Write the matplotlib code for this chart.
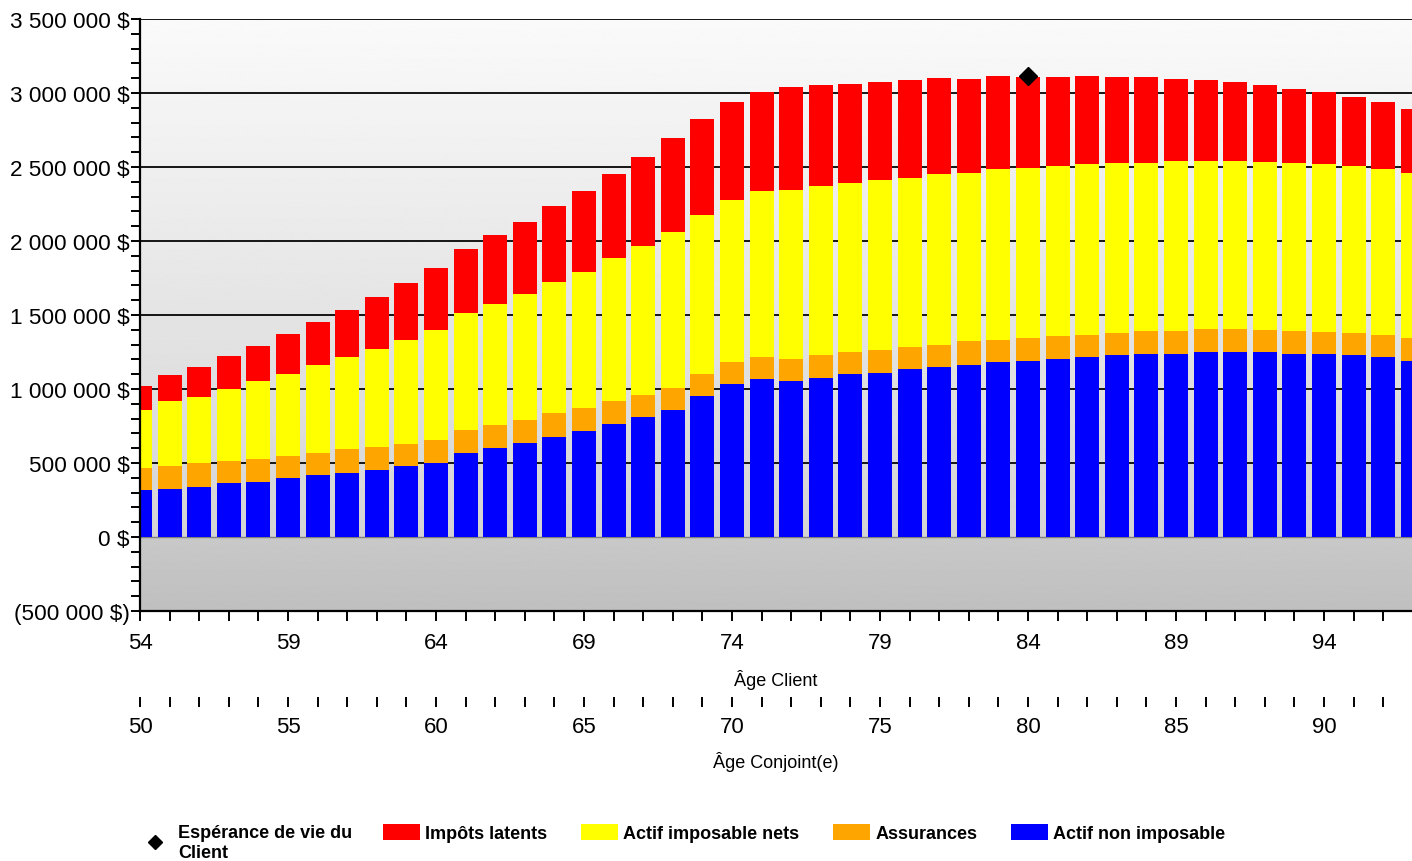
import numpy as np
import matplotlib
matplotlib.use("Agg")
import matplotlib.pyplot as plt
from matplotlib.lines import Line2D
from matplotlib.patches import Patch
from matplotlib.ticker import MultipleLocator, FuncFormatter, FixedLocator

plt.rcParams['font.family'] = ['Liberation Sans', 'DejaVu Sans']

# ---------------- data ----------------
ages_client = list(range(54, 98))
actif_non_imposable = [318000, 324000, 338000, 365000, 372000, 399000, 419000, 432000, 453000, 480000,
                       500000, 568000, 601000, 635000, 676000, 716000, 764000, 811000, 858000, 953000,
                       1034000, 1068000, 1054000, 1074000, 1101000, 1108000, 1135000, 1149000, 1162000, 1182000,
                       1189000, 1203000, 1216000, 1230000, 1236000, 1236000, 1250000, 1250000, 1250000, 1236000,
                       1236000, 1230000, 1216000, 1189000]
assurances = [149000, 155000, 162000, 149000, 155000, 149000, 149000, 162000, 155000, 149000,
              155000, 155000, 155000, 155000, 162000, 155000, 155000, 149000, 149000, 149000,
              149000, 149000, 149000, 155000, 149000, 155000, 149000, 149000, 162000, 149000,
              155000, 155000, 149000, 149000, 155000, 155000, 155000, 155000, 149000, 155000,
              149000, 149000, 149000, 155000]
actif_imposable_nets = [392000, 439000, 446000, 486000, 527000, 554000, 595000, 622000, 662000, 703000,
                        743000, 791000, 818000, 851000, 885000, 919000, 966000, 1007000, 1054000, 1074000,
                        1095000, 1122000, 1142000, 1142000, 1142000, 1149000, 1142000, 1155000, 1135000, 1155000,
                        1149000, 1149000, 1155000, 1149000, 1135000, 1149000, 1135000, 1135000, 1135000, 1135000,
                        1135000, 1128000, 1122000, 1115000]
impots_latents = [162000, 176000, 203000, 223000, 236000, 270000, 291000, 318000, 351000, 385000,
                  419000, 432000, 466000, 486000, 514000, 547000, 568000, 601000, 635000, 649000,
                  662000, 669000, 696000, 682000, 669000, 662000, 662000, 649000, 635000, 628000,
                  615000, 601000, 595000, 581000, 581000, 554000, 547000, 534000, 520000, 500000,
                  486000, 466000, 453000, 432000]
esperance_age = [84]
esperance_val = [3115000]
age_offset_conjoint = 4  # Client age - Conjoint(e) age

client_major_ticks = [54, 59, 64, 69, 74, 79, 84, 89, 94]
conjoint_major_ticks = [50, 55, 60, 65, 70, 75, 80, 85, 90]

label_esperance = "Espérance de vie du\nClient"
series_labels = ["Impôts latents", "Actif imposable nets", "Assurances", "Actif non imposable"]
colors = {"red": "#FF0000", "yellow": "#FFFF00", "orange": "#FFA500", "blue": "#0000FF"}

# ---------------- figure ----------------
W, H = 1412, 862
fig = plt.figure(figsize=(W / 100, H / 100), dpi=100)
ax = fig.add_axes([140 / W, (H - 612) / H, 1272 / W, 592 / H])

xmin, xmax = 54, 96.97
ymin, ymax = -500000, 3500000

# background gradients
grad_top = np.linspace(0.98, 0.83, 256).reshape(-1, 1)
ax.imshow(grad_top, extent=[xmin, xmax, 0, ymax], origin='upper', aspect='auto',
          cmap='gray', vmin=0, vmax=1, zorder=0, interpolation='bilinear')
grad_bot = np.linspace(0.785, 0.75, 64).reshape(-1, 1)
ax.imshow(grad_bot, extent=[xmin, xmax, ymin, 0], origin='upper', aspect='auto',
          cmap='gray', vmin=0, vmax=1, zorder=0, interpolation='bilinear')

# gridlines
for v in range(500000, 3500001, 500000):
    ax.axhline(v, color='#151515', lw=1.4, zorder=0.5)
ax.axhline(0, color='#808080', lw=1.0, zorder=0.5)

x = np.array(ages_client)
bw = 0.81
b1 = np.array(actif_non_imposable)
b2 = b1 + np.array(assurances)
b3 = b2 + np.array(actif_imposable_nets)
ax.bar(x, actif_non_imposable, width=bw, color=colors["blue"], zorder=1, linewidth=0)
ax.bar(x, assurances, width=bw, bottom=b1, color=colors["orange"], zorder=1, linewidth=0)
ax.bar(x, actif_imposable_nets, width=bw, bottom=b2, color=colors["yellow"], zorder=1, linewidth=0)
ax.bar(x, impots_latents, width=bw, bottom=b3, color=colors["red"], zorder=1, linewidth=0)

ax.plot(esperance_age, esperance_val, linestyle='none', marker='D', ms=9,
        color='black', zorder=4, clip_on=False)

ax.set_xlim(xmin, xmax)
ax.set_ylim(ymin, ymax)

def money(v, pos=None):
    s = f"{abs(int(round(v))):,}".replace(",", " ")
    return f"({s} $)" if v < 0 else f"{s} $"

ax.yaxis.set_major_locator(MultipleLocator(500000))
ax.yaxis.set_minor_locator(MultipleLocator(100000))
ax.yaxis.set_major_formatter(FuncFormatter(money))
ax.xaxis.set_major_locator(FixedLocator(client_major_ticks))
ax.xaxis.set_minor_locator(FixedLocator(ages_client[:-1]))

for s in ['top', 'right']:
    ax.spines[s].set_visible(False)
for s in ['left', 'bottom']:
    ax.spines[s].set_linewidth(1.6)
    ax.spines[s].set_color('black')
    ax.spines[s].set_zorder(3)

ax.tick_params(axis='y', which='both', direction='out', length=6.5, width=1.4, labelsize=16.2, pad=1)
ax.tick_params(axis='x', which='both', direction='out', length=7, width=1.4, labelsize=16, pad=8)
ax.set_xlabel("Âge Client", fontsize=13, labelpad=12)

sec = ax.secondary_xaxis(-86 / 592, functions=(lambda a: a - age_offset_conjoint,
                                                lambda a: a + age_offset_conjoint))
sec.spines['bottom'].set_visible(False)
sec.xaxis.set_major_locator(FixedLocator(conjoint_major_ticks))
sec.xaxis.set_minor_locator(FixedLocator([a - age_offset_conjoint for a in ages_client[:-1]]))
sec.tick_params(axis='x', which='both', direction='out', length=7, width=1.4, labelsize=16, pad=6.5)
sec.set_xlabel("Âge Conjoint(e)", fontsize=13, labelpad=10)

# legends
fs = 13
fpx = fs * 100 / 72
leg_a = fig.legend([Line2D([], [], linestyle='none', marker='D', ms=7, color='black')],
                   [label_esperance], loc='upper left',
                   bbox_to_anchor=(136.5 / W, 1 - 825 / H), frameon=False,
                   prop={'weight': 'bold', 'size': fs}, borderpad=0, borderaxespad=0,
                   handlelength=37 / fpx, handletextpad=5 / fpx, labelspacing=0.1)
patch_handles = [Patch(facecolor=colors[c], linewidth=0) for c in ["red", "yellow", "orange", "blue"]]
leg_b = fig.legend(patch_handles, series_labels, ncol=4, loc='upper left',
                   bbox_to_anchor=(383 / W, 1 - 825 / H), frameon=False,
                   prop={'weight': 'bold', 'size': fs}, borderpad=0, borderaxespad=0,
                   handlelength=37 / fpx, handleheight=18 / fpx, handletextpad=5 / fpx,
                   columnspacing=34 / fpx)

fig.savefig("out.png", dpi=100)
